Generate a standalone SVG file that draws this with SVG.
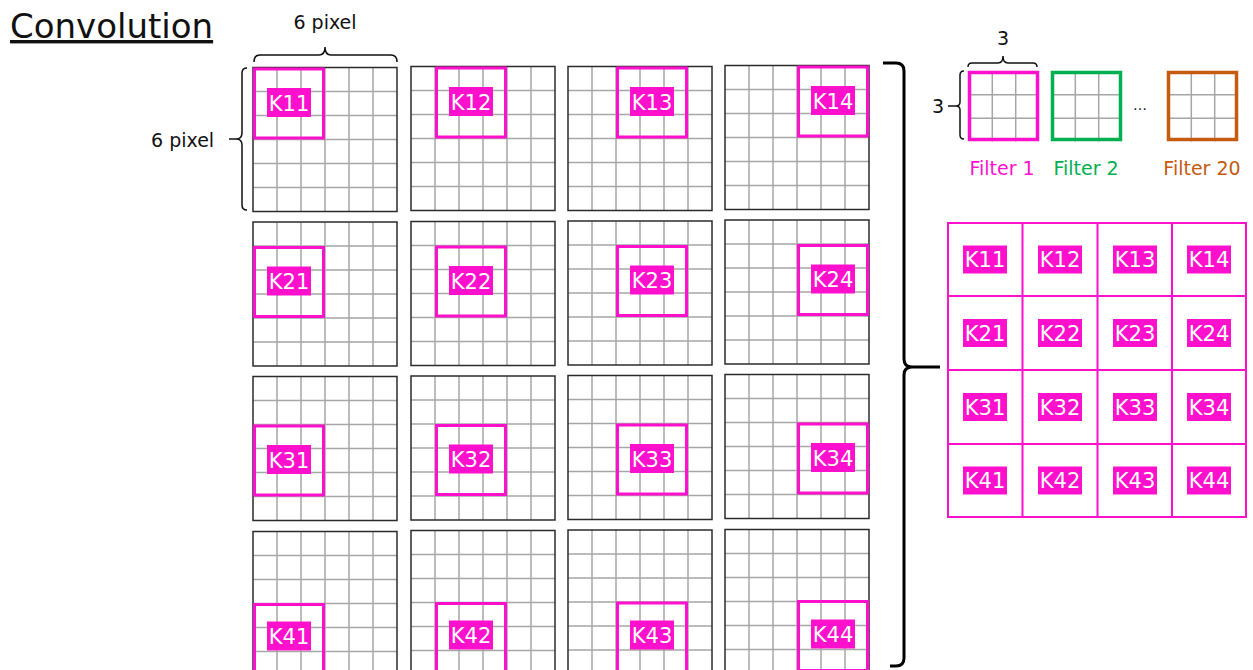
<svg xmlns="http://www.w3.org/2000/svg" xmlns:xlink="http://www.w3.org/1999/xlink" width="1253" height="670" viewBox="0 0 1253 670">
<style>
text{font-family:"DejaVu Sans","Liberation Sans",sans-serif}
.title{font-size:34px;fill:#111;text-decoration:underline}
.dim{font-size:19px;fill:#111}
.lbl{font-size:21px;fill:#fff;text-anchor:middle}
.lblbg{fill:#FF10CC}
.win{fill:none;stroke:#FF10CC;stroke-width:3}
.gin{stroke:#A6A6A6;stroke-width:1.5;fill:none}
.gout{stroke:#2B2B2B;stroke-width:1.5;fill:none}
.brace{fill:none;stroke:#111;stroke-width:1.5}
.bigbrace{fill:none;stroke:#000;stroke-width:3}
.res{fill:none;stroke:#FF10CC;stroke-width:2}
.flt{font-size:19px;text-anchor:middle}
</style>
<defs>
<g id="g6">
<rect x="0" y="0" width="144" height="144" fill="#fff"/>
<path class="gin" d="M24,0V144M48,0V144M72,0V144M96,0V144M120,0V144M0,24H144M0,48H144M0,72H144M0,96H144M0,120H144"/>
<rect class="gout" x="0" y="0" width="144" height="144"/>
</g>
<g id="g3">
<path class="gin" d="M23.3,0V70M46.7,0V70M0,23.3H70M0,46.7H70"/>
</g>
</defs>
<rect width="1253" height="670" fill="#fff"/>
<text class="title" x="10" y="38">Convolution</text>

<g id="dims">
<text class="dim" x="325" y="29" text-anchor="middle">6 pixel</text>
<path class="brace" d="M254,62Q254,55 260,55L319,55Q325,55 325,47Q325,55 331,55L391,55Q397,55 397,62"/>
<text class="dim" x="151" y="147">6 pixel</text>
<path class="brace" d="M247,68Q242,68 242,73L242,133Q242,139 236,139L229,139M236,139Q242,139 242,145L242,205Q242,210 247,210"/>
</g>

<g id="inputs">
<g id="in11"><use href="#g6" x="253" y="67.5"/><rect class="win" x="254.5" y="69" width="69" height="69"/><rect class="lblbg" x="267" y="88" width="44" height="29"/><text class="lbl" x="289" y="110.5">K11</text></g>
<g id="in12"><use href="#g6" x="411" y="66.5"/><rect class="win" x="436.5" y="68" width="69" height="69"/><rect class="lblbg" x="449" y="87" width="44" height="29"/><text class="lbl" x="471" y="109.5">K12</text></g>
<g id="in13"><use href="#g6" x="568" y="66.5"/><rect class="win" x="617.5" y="68" width="69" height="69"/><rect class="lblbg" x="630" y="87" width="44" height="29"/><text class="lbl" x="652" y="109.5">K13</text></g>
<g id="in14"><use href="#g6" x="725" y="65.5"/><rect class="win" x="798.5" y="67" width="69" height="69"/><rect class="lblbg" x="811" y="86" width="44" height="29"/><text class="lbl" x="833" y="108.5">K14</text></g>

<g id="in21"><use href="#g6" x="253" y="222"/><rect class="win" x="254.5" y="247.5" width="69" height="69"/><rect class="lblbg" x="267" y="266.5" width="44" height="29"/><text class="lbl" x="289" y="289">K21</text></g>
<g id="in22"><use href="#g6" x="411" y="221.5"/><rect class="win" x="436.5" y="247" width="69" height="69"/><rect class="lblbg" x="449" y="266" width="44" height="29"/><text class="lbl" x="471" y="288.5">K22</text></g>
<g id="in23"><use href="#g6" x="568" y="221"/><rect class="win" x="617.5" y="246.5" width="69" height="69"/><rect class="lblbg" x="630" y="265.5" width="44" height="29"/><text class="lbl" x="652" y="288">K23</text></g>
<g id="in24"><use href="#g6" x="725" y="220"/><rect class="win" x="798.5" y="245.5" width="69" height="69"/><rect class="lblbg" x="811" y="264.5" width="44" height="29"/><text class="lbl" x="833" y="287">K24</text></g>

<g id="in31"><use href="#g6" x="253" y="376.5"/><rect class="win" x="254.5" y="426" width="69" height="69"/><rect class="lblbg" x="267" y="445" width="44" height="29"/><text class="lbl" x="289" y="467.5">K31</text></g>
<g id="in32"><use href="#g6" x="411" y="376"/><rect class="win" x="436.5" y="425.5" width="69" height="69"/><rect class="lblbg" x="449" y="444.5" width="44" height="29"/><text class="lbl" x="471" y="467">K32</text></g>
<g id="in33"><use href="#g6" x="568" y="375.5"/><rect class="win" x="617.5" y="425" width="69" height="69"/><rect class="lblbg" x="630" y="444" width="44" height="29"/><text class="lbl" x="652" y="466.5">K33</text></g>
<g id="in34"><use href="#g6" x="725" y="374.5"/><rect class="win" x="798.5" y="424" width="69" height="69"/><rect class="lblbg" x="811" y="443" width="44" height="29"/><text class="lbl" x="833" y="465.5">K34</text></g>

<g id="in41"><use href="#g6" x="253" y="531.5"/><rect class="win" x="254.5" y="604.5" width="69" height="69"/><rect class="lblbg" x="267" y="621.5" width="44" height="29"/><text class="lbl" x="289" y="644">K41</text></g>
<g id="in42"><use href="#g6" x="411" y="530.5"/><rect class="win" x="436.5" y="603.5" width="69" height="69"/><rect class="lblbg" x="449" y="620.5" width="44" height="29"/><text class="lbl" x="471" y="643">K42</text></g>
<g id="in43"><use href="#g6" x="568" y="530"/><rect class="win" x="617.5" y="603" width="69" height="69"/><rect class="lblbg" x="630" y="620.5" width="44" height="29"/><text class="lbl" x="652" y="643">K43</text></g>
<g id="in44"><use href="#g6" x="725" y="529.5"/><rect class="win" x="798.5" y="601.5" width="69" height="69"/><rect class="lblbg" x="811" y="619.5" width="44" height="29"/><text class="lbl" x="833" y="642">K44</text></g>
</g>

<g id="connectors">
<path class="bigbrace" d="M883,63L896,63Q904,63 904,71L904,359Q904,367 912,367L940,367M912,367Q904,367 904,375L904,658Q904,666 896,666L890,666"/>
</g>

<g id="filters">
<g id="filter1">
<use href="#g3" x="969" y="71.5"/>
<rect x="969.5" y="72.5" width="68" height="67" fill="none" stroke="#FF10CC" stroke-width="3.5"/>
<text class="flt" x="1002" y="175" fill="#FF10CC">Filter 1</text>
</g>
<g id="filter2">
<use href="#g3" x="1052" y="71.5"/>
<rect x="1052.5" y="72.5" width="68" height="67" fill="none" stroke="#00B050" stroke-width="3.5"/>
<text class="flt" x="1086" y="175" fill="#00B050">Filter 2</text>
</g>
<text x="1140" y="110" font-size="14" fill="#111" text-anchor="middle">…</text>
<g id="filter20">
<use href="#g3" x="1168" y="71.5"/>
<rect x="1168.5" y="72.5" width="68" height="67" fill="none" stroke="#C55A11" stroke-width="3.5"/>
<text class="flt" x="1202" y="175" fill="#C55A11">Filter 20</text>
</g>
<text class="dim" x="1003" y="45" text-anchor="middle">3</text>
<path class="brace" d="M968,67Q968,63 972,63L998,63Q1003,63 1003,56Q1003,63 1008,63L1033,63Q1037,63 1037,67"/>
<text class="dim" x="938" y="113" text-anchor="middle">3</text>
<path class="brace" d="M964,71Q960,71 960,75L960,102Q960,106 956,106L948,106M956,106Q960,106 960,110L960,135Q960,139 964,139"/>
</g>

<g id="result">
<rect class="res" x="948" y="223" width="298" height="294"/>
<path class="res" d="M1022.5,223V517M1097.5,223V517M1172,223V517M948,296H1246M948,370H1246M948,444H1246"/>
<rect class="lblbg" x="963" y="245.5" width="44" height="28"/><text class="lbl" x="985" y="267">K11</text>
<rect class="lblbg" x="1038" y="245.5" width="44" height="28"/><text class="lbl" x="1060" y="267">K12</text>
<rect class="lblbg" x="1113" y="245.5" width="44" height="28"/><text class="lbl" x="1135" y="267">K13</text>
<rect class="lblbg" x="1187" y="245.5" width="44" height="28"/><text class="lbl" x="1209" y="267">K14</text>
<rect class="lblbg" x="963" y="319" width="44" height="28"/><text class="lbl" x="985" y="340.5">K21</text>
<rect class="lblbg" x="1038" y="319" width="44" height="28"/><text class="lbl" x="1060" y="340.5">K22</text>
<rect class="lblbg" x="1113" y="319" width="44" height="28"/><text class="lbl" x="1135" y="340.5">K23</text>
<rect class="lblbg" x="1187" y="319" width="44" height="28"/><text class="lbl" x="1209" y="340.5">K24</text>
<rect class="lblbg" x="963" y="393" width="44" height="28"/><text class="lbl" x="985" y="414.5">K31</text>
<rect class="lblbg" x="1038" y="393" width="44" height="28"/><text class="lbl" x="1060" y="414.5">K32</text>
<rect class="lblbg" x="1113" y="393" width="44" height="28"/><text class="lbl" x="1135" y="414.5">K33</text>
<rect class="lblbg" x="1187" y="393" width="44" height="28"/><text class="lbl" x="1209" y="414.5">K34</text>
<rect class="lblbg" x="963" y="466.5" width="44" height="28"/><text class="lbl" x="985" y="488">K41</text>
<rect class="lblbg" x="1038" y="466.5" width="44" height="28"/><text class="lbl" x="1060" y="488">K42</text>
<rect class="lblbg" x="1113" y="466.5" width="44" height="28"/><text class="lbl" x="1135" y="488">K43</text>
<rect class="lblbg" x="1187" y="466.5" width="44" height="28"/><text class="lbl" x="1209" y="488">K44</text>
</g>
</svg>
